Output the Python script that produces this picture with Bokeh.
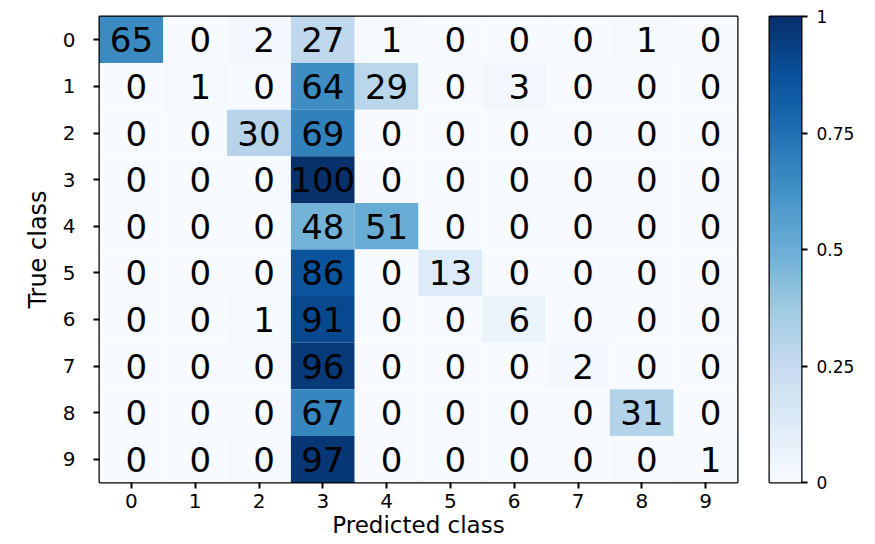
import numpy as np
from bokeh.plotting import figure
from bokeh.layouts import row
from bokeh.models import (LinearColorMapper, FixedTicker, CustomJSTickFormatter,
                          Range1d, ColumnDataSource)
from bokeh.palettes import Blues256
from bokeh.core.properties import value
from bokeh.embed import file_html
from bokeh.resources import INLINE

classes = list(range(10))
tick_labels = [str(c) for c in classes]
# percentage of each true class (row) predicted as each class (column)
pct = [
    [65, 0, 2, 27, 1, 0, 0, 0, 1, 0],
    [0, 1, 0, 64, 29, 0, 3, 0, 0, 0],
    [0, 0, 30, 69, 0, 0, 0, 0, 0, 0],
    [0, 0, 0, 100, 0, 0, 0, 0, 0, 0],
    [0, 0, 0, 48, 51, 0, 0, 0, 0, 0],
    [0, 0, 0, 86, 0, 13, 0, 0, 0, 0],
    [0, 0, 1, 91, 0, 0, 6, 0, 0, 0],
    [0, 0, 0, 96, 0, 0, 0, 2, 0, 0],
    [0, 0, 0, 67, 0, 0, 0, 0, 31, 0],
    [0, 0, 0.4, 97, 0, 0, 0, 0, 0.4, 1],
]
cbar_ticks = [0, 0.25, 0.5, 0.75, 1]

xs, ys, fr, labels = [], [], [], []
for r, rowv in enumerate(pct):
    for c, v in enumerate(rowv):
        xs.append(classes[c]); ys.append(classes[r])
        fr.append(v / 100.0); labels.append(str(int(round(v))))
src = ColumnDataSource(dict(x=xs, y=ys, v=fr, t=labels))
one = [i for i, t in enumerate(labels) if len(t) == 1]
multi = [i for i, t in enumerate(labels) if len(t) > 1]
src1 = ColumnDataSource(dict(x=[xs[i] for i in one], y=[ys[i] for i in one], t=[labels[i] for i in one]))
src2 = ColumnDataSource(dict(x=[xs[i] for i in multi], y=[ys[i] for i in multi], t=[labels[i] for i in multi]))

mapper = LinearColorMapper(palette=list(reversed(Blues256)), low=0, high=1)

p = figure(width=739, height=544, output_backend="svg", toolbar_location=None,
           x_range=Range1d(-0.5, 9.5), y_range=Range1d(9.5, -0.5),
           min_border_left=99, min_border_top=16, min_border_right=2, min_border_bottom=62,
           x_axis_label="Predicted class", y_axis_label="True class")
p.rect(x="x", y="y", width=1, height=1, source=src,
       fill_color={"field": "v", "transform": mapper}, line_color=None)

font = value("DejaVu Sans")
p.text(x="x", y="y", text="t", source=src2, text_align="center", text_baseline="middle",
       text_font=font, text_font_size="34px", text_color="black")
p.text(x="x", y="y", text="t", source=src1, text_align="center", text_baseline="middle",
       text_font=font, text_font_size="34px", text_color="black", x_offset=5)

p.grid.visible = False
p.outline_line_color = "black"
p.outline_line_width = 2
p.background_fill_color = "white"
for ax in (p.xaxis[0], p.yaxis[0]):
    ax.ticker = FixedTicker(ticks=classes)
    ax.major_label_overrides = {c: tick_labels[c] for c in classes}
    ax.minor_tick_line_color = None
    ax.major_tick_in = 0
    ax.major_tick_out = 6
    ax.major_tick_line_width = 2
    ax.major_tick_line_color = "black"
    ax.axis_line_color = None
    ax.major_label_text_font = "DejaVu Sans"
    ax.major_label_text_font_size = "20px"
    ax.major_label_text_color = "black"
    ax.axis_label_text_font = "DejaVu Sans"
    ax.axis_label_text_font_style = "normal"
    ax.axis_label_text_color = "black"
p.xaxis.major_label_standoff = 5
p.xaxis.axis_label_standoff = 1
p.xaxis.axis_label_text_font_size = "23px"
p.yaxis.major_label_standoff = 18
p.yaxis.axis_label_standoff = 8
p.yaxis.axis_label_text_font_size = "24px"

# colour bar as its own narrow figure, drawn through the same colour mapper
grad = np.linspace(0, 1, 256).reshape(256, 1)
cb = figure(width=136, height=544, output_backend="svg", toolbar_location=None,
            x_range=Range1d(0, 1), y_range=Range1d(0, 1),
            min_border_left=30, min_border_top=16, min_border_right=74, min_border_bottom=62,
            x_axis_location=None, y_axis_location="right")
cb.image(image=[grad], x=0, y=0, dw=1, dh=1, color_mapper=mapper)
cb.grid.visible = False
cb.outline_line_color = "black"
cb.outline_line_width = 2
ay = cb.yaxis[0]
ay.ticker = FixedTicker(ticks=cbar_ticks)
ay.formatter = CustomJSTickFormatter(code="return tick.toString()")
ay.minor_tick_line_color = None
ay.major_tick_in = 0
ay.major_tick_out = 6
ay.major_tick_line_width = 2
ay.major_tick_line_color = "black"
ay.axis_line_color = None
ay.major_label_standoff = 9
ay.major_label_text_font = "DejaVu Sans"
ay.major_label_text_font_size = "17px"
ay.major_label_text_color = "black"

layout = row(p, cb)
open("out.html", "w").write(file_html(layout, INLINE))
